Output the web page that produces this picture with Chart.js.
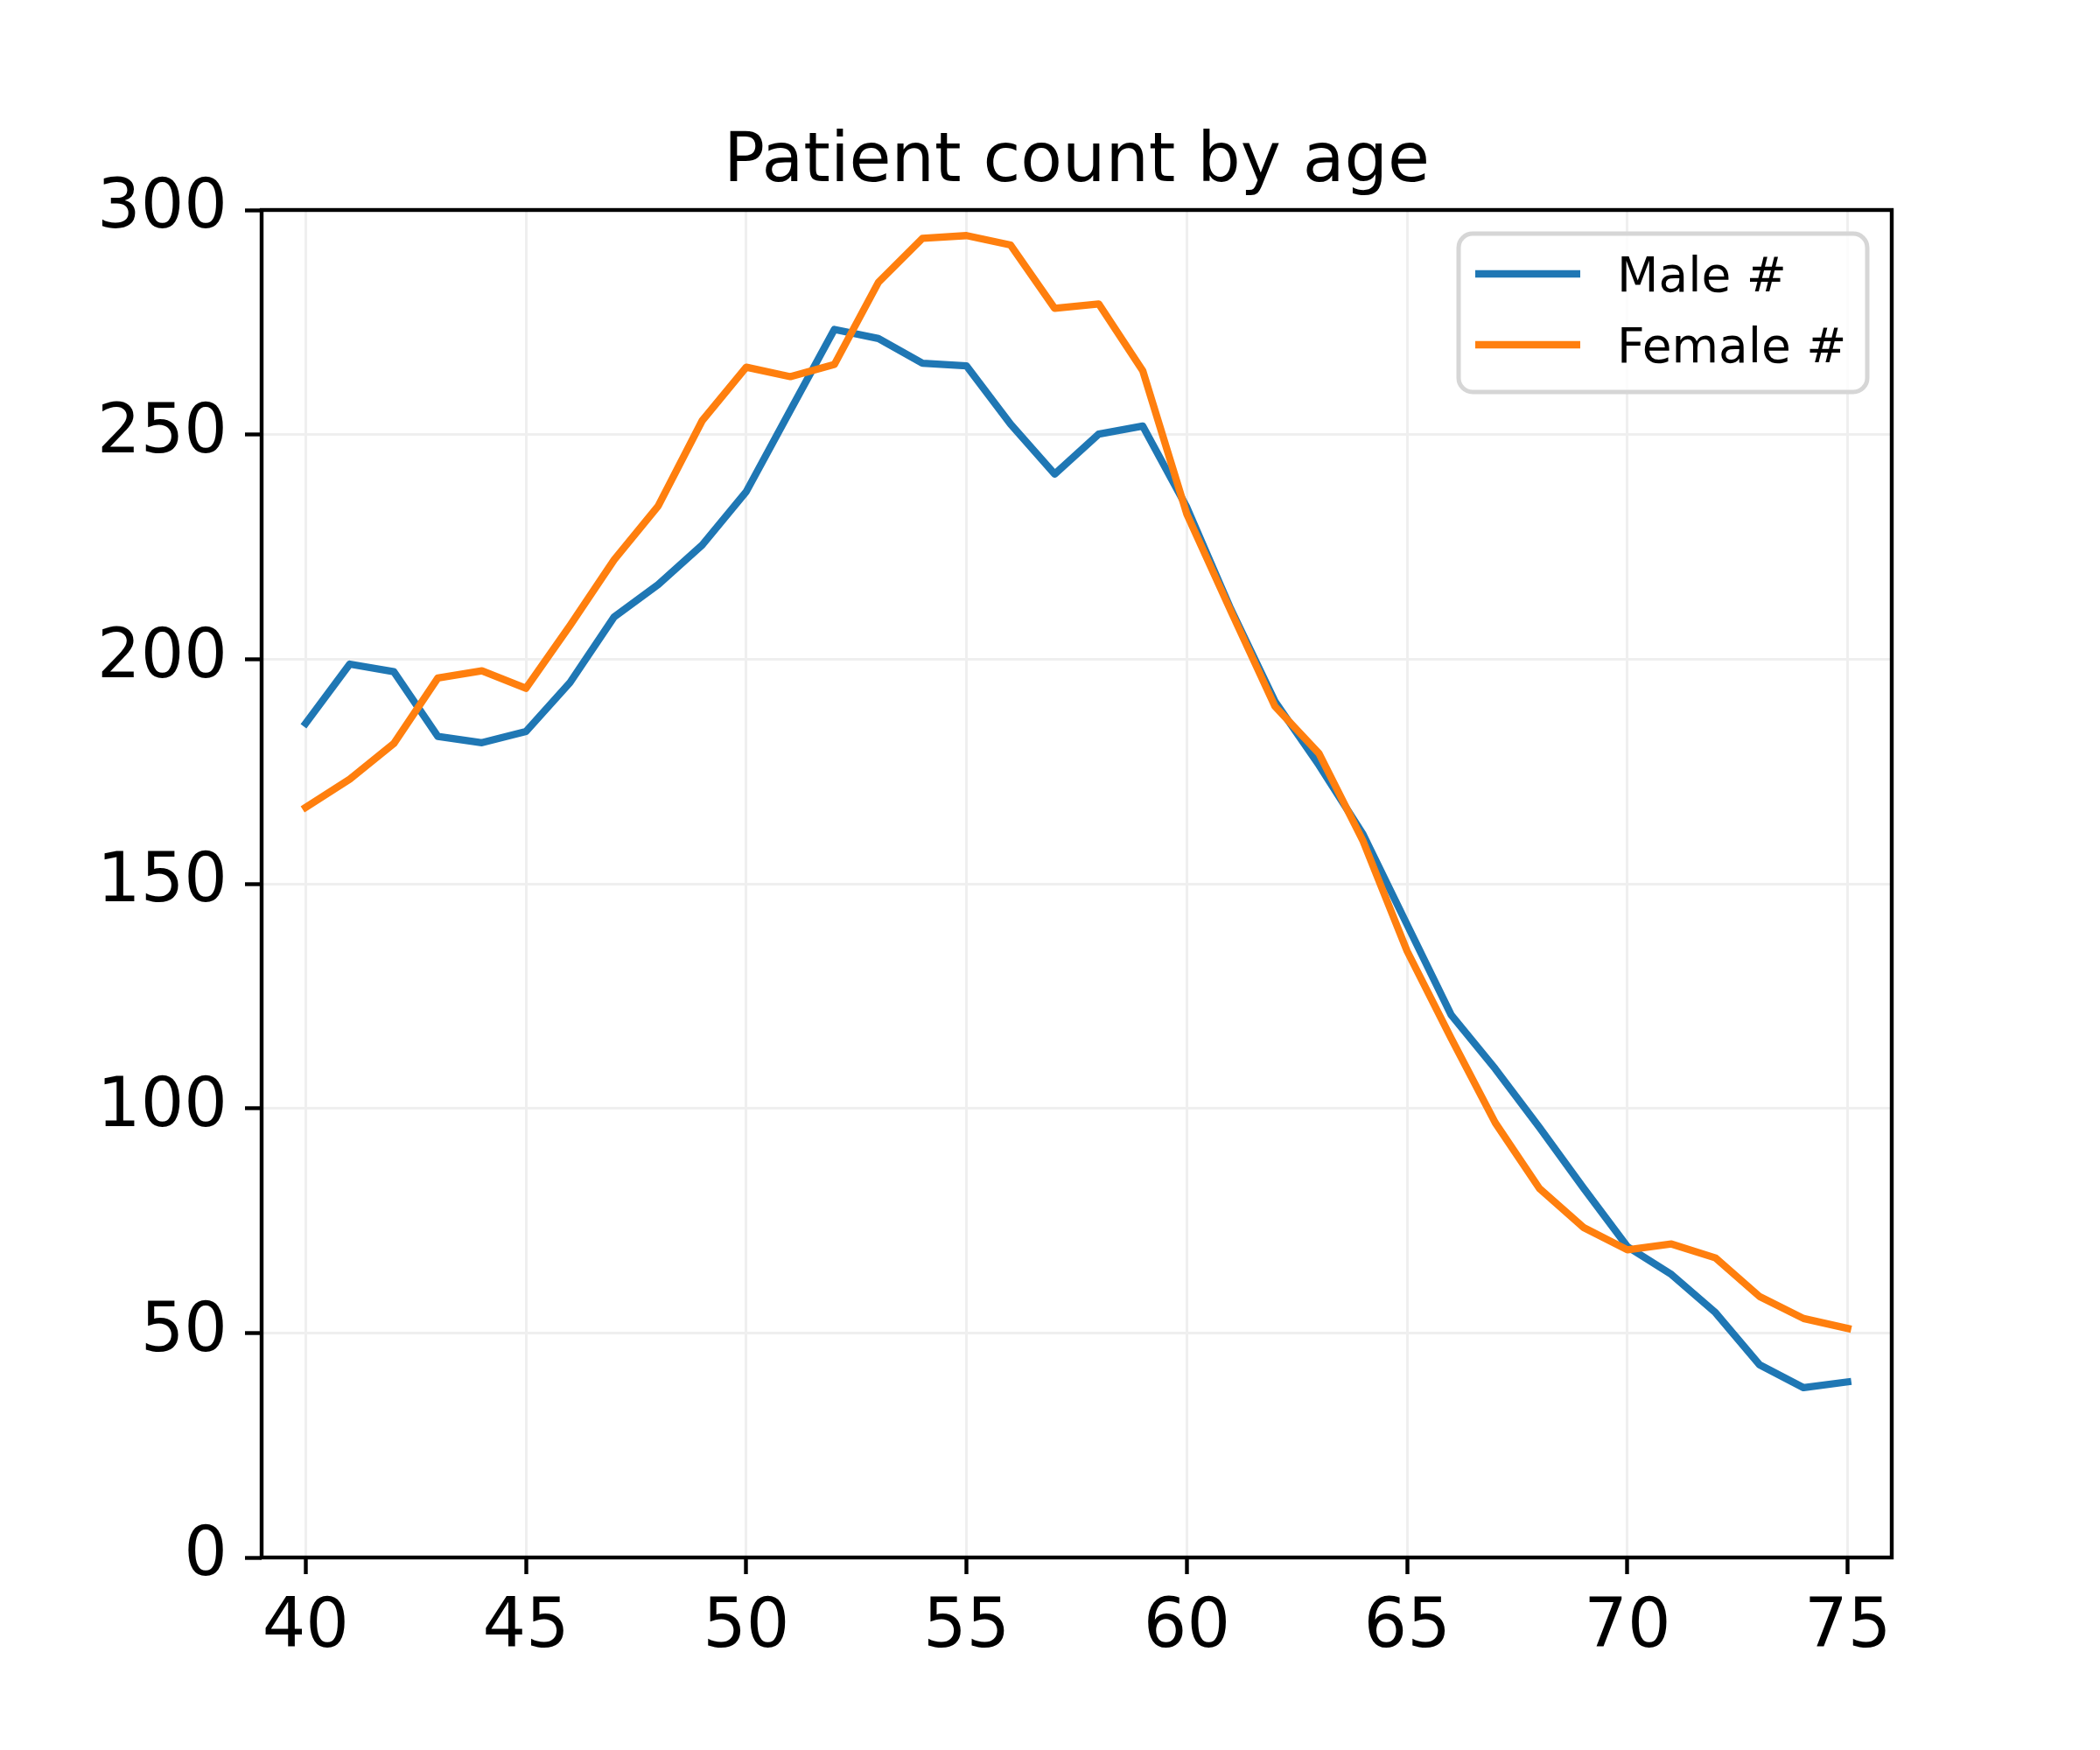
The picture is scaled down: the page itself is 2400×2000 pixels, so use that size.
<!DOCTYPE html>
<html lang="en">
<head>
    <meta charset="UTF-8">
    <title>Patient count by age</title>
    <script src="https://cdn.jsdelivr.net/npm/chart.js"></script>
    <style>
        html, body { margin: 0; padding: 0; background: #fff; }
        canvas { display: block; }
    </style>
</head>
<body>
    <canvas id="ageChart" width="2400" height="2000" style="width:2400px;height:2000px"></canvas>

    <script>
        // values
        const ages = [40, 41, 42, 43, 44, 45, 46, 47, 48, 49, 50, 51, 52, 53, 54, 55, 56, 57,
                      58, 59, 60, 61, 62, 63, 64, 65, 66, 67, 68, 69, 70, 71, 72, 73, 74, 75];
        const maleCounts = [185.7, 198.9, 197.2, 182.8, 181.4, 183.9, 194.8, 209.4, 216.6, 225.4,
                            237.3, 255.4, 273.4, 271.4, 265.9, 265.3, 252.3, 241.2, 250.1, 251.9,
                            233.8, 211.1, 190.6, 176.4, 161.0, 140.9, 120.8, 108.8, 95.8, 82.3,
                            69.2, 63.0, 54.5, 42.9, 37.8, 39.1];
        const femaleCounts = [167.0, 173.3, 181.2, 195.8, 197.4, 193.5, 207.5, 222.1, 234.1, 253.1,
                              265.0, 262.9, 265.6, 283.9, 293.7, 294.3, 292.2, 278.1, 279.1, 264.2,
                              232.3, 210.7, 189.5, 179.0, 159.5, 135.0, 115.6, 96.8, 82.2, 73.5,
                              68.5, 69.8, 66.7, 58.1, 53.2, 51.0];
        const xTicks = [40, 45, 50, 55, 60, 65, 70, 75];
        const yTicks = [0, 50, 100, 150, 200, 250, 300];
        const seriesLabels = ["Male #", "Female #"];
        const titleText = "Patient count by age";

        const FONT = "'DejaVu Sans', 'Liberation Sans', sans-serif";
        const BLUE = "#1f77b4";
        const ORANGE = "#ff7f0e";

        // title centred over the plot area, like matplotlib's axes title
        const axesTitle = {
            id: "axesTitle",
            afterDraw(chart) {
                const { ctx, chartArea: a } = chart;
                ctx.save();
                ctx.fillStyle = "#000";
                ctx.font = "78px " + FONT;
                ctx.textAlign = "center";
                ctx.textBaseline = "alphabetic";
                ctx.fillText(titleText, (a.left + a.right) / 2, a.top - 33);
                ctx.restore();
            }
        };

        // top/right spines like matplotlib's box
        const framePlugin = {
            id: "frame",
            afterDatasetsDraw(chart) {
                const { ctx, chartArea: a } = chart;
                ctx.save();
                ctx.strokeStyle = "#000";
                ctx.lineWidth = 4.4;
                ctx.strokeRect(a.left, a.top, a.right - a.left, a.bottom - a.top);
                ctx.restore();
            }
        };

        // legend box drawn inside the plot, upper right
        const boxLegend = {
            id: "boxLegend",
            afterDraw(chart) {
                const { ctx, chartArea: a } = chart;
                const w = 467, h = 181, r = 16;
                const x = a.right - 28 - w, y = a.top + 27;
                ctx.save();
                ctx.beginPath();
                ctx.moveTo(x + r, y);
                ctx.arcTo(x + w, y, x + w, y + h, r);
                ctx.arcTo(x + w, y + h, x, y + h, r);
                ctx.arcTo(x, y + h, x, y, r);
                ctx.arcTo(x, y, x + w, y, r);
                ctx.closePath();
                ctx.fillStyle = "rgba(255,255,255,0.8)";
                ctx.fill();
                ctx.strokeStyle = "#d6d6d6";
                ctx.lineWidth = 5;
                ctx.stroke();

                chart.data.datasets.forEach((ds, i) => {
                    const ly = y + 46 + i * 81;
                    ctx.beginPath();
                    ctx.moveTo(x + 19, ly);
                    ctx.lineTo(x + 139, ly);
                    ctx.strokeStyle = ds.borderColor;
                    ctx.lineWidth = 8.3;
                    ctx.stroke();
                    ctx.fillStyle = "#000";
                    ctx.font = "55px " + FONT;
                    ctx.textBaseline = "alphabetic";
                    ctx.textAlign = "left";
                    ctx.fillText(ds.label, x + 181, ly + 20);
                });
                ctx.restore();
            }
        };

        const ctx = document.getElementById("ageChart").getContext("2d");
        const ageChart = new Chart(ctx, {
            type: "line",
            data: {
                datasets: [
                    {
                        label: seriesLabels[0],
                        data: ages.map((a, i) => ({ x: a, y: maleCounts[i] })),
                        borderColor: BLUE,
                        order: 2
                    },
                    {
                        label: seriesLabels[1],
                        data: ages.map((a, i) => ({ x: a, y: femaleCounts[i] })),
                        borderColor: ORANGE,
                        order: 1
                    }
                ]
            },
            options: {
                responsive: false,
                animation: false,
                devicePixelRatio: 1,
                elements: {
                    point: { radius: 0, hoverRadius: 0 },
                    line: {
                        borderWidth: 8.3,
                        tension: 0,
                        fill: false,
                        borderJoinStyle: "round",
                        borderCapStyle: "square"
                    }
                },
                layout: { padding: { left: 0, right: 238, top: 240, bottom: 0 } },
                plugins: {
                    legend: { display: false },
                    tooltip: { enabled: false },
                    title: { display: false }
                },
                scales: {
                    x: {
                        type: "linear",
                        min: 39,
                        max: 76,
                        afterBuildTicks: s => { s.ticks = xTicks.map(v => ({ value: v })); },
                        afterFit: s => { s.height = 220; },
                        border: { display: false },
                        grid: {
                            color: "#efefef",
                            lineWidth: 3,
                            tickColor: "#000",
                            tickWidth: 4.4,
                            tickLength: 19
                        },
                        ticks: {
                            color: "#000",
                            padding: 16,
                            maxRotation: 0,
                            font: { family: FONT, size: 78 }
                        }
                    },
                    y: {
                        type: "linear",
                        min: 0,
                        max: 300,
                        afterBuildTicks: s => { s.ticks = yTicks.map(v => ({ value: v })); },
                        afterFit: s => { s.width = 299; },
                        border: { display: false },
                        grid: {
                            color: "#efefef",
                            lineWidth: 3,
                            tickColor: "#000",
                            tickWidth: 4.4,
                            tickLength: 19
                        },
                        ticks: {
                            color: "#000",
                            padding: 20,
                            font: { family: FONT, size: 78 }
                        }
                    }
                }
            },
            plugins: [framePlugin, axesTitle, boxLegend]
        });
    </script>
</body>
</html>
